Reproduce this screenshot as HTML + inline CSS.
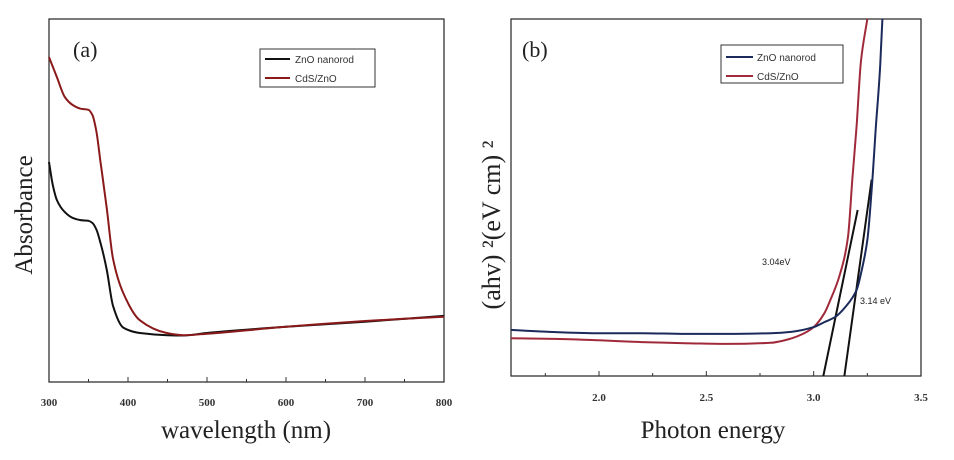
<!DOCTYPE html>
<html><head><meta charset="utf-8"><style>
html,body{margin:0;padding:0;background:#fff;}
svg{display:block;font-family:"Liberation Serif",serif;}
</style></head><body>
<svg id="c" width="954" height="460" viewBox="0 0 954 460">
<rect x="0" y="0" width="954" height="460" fill="#fff"/>
<g id="pa"></g>
<g id="pb"></g>
</svg>
<script>
// Panel (a) data: wavelength (nm) vs absorbance (arb. 0-100)
const aZnoX=[300,305,310,320,330,340,350,355,360,365,373,381,394,415,450,470,500,600,700,800];
const aZnoY=[60.6,54,50.1,46.8,45.2,44.6,44.4,43.8,42,38.5,31,21,15,13.5,12.9,12.8,13.5,15.2,16.6,18.2];
const aCdsX=[300,310,320,330,340,350,355,360,365,373,381,394,415,449,470,500,600,700,800];
const aCdsY=[89.5,84,78.5,76.3,75.3,75.0,73.5,69,61,48,34,24.5,17,13.5,12.9,13.3,15.2,16.8,18];
const aTicks=[300,400,500,600,700,800];
const aTickLabels=["300","400","500","600","700","800"];
// Panel (b) data: photon energy (eV) vs (ahv)^2 (arb. 0-100)
const bZnoX=[1.59,1.8,2.0,2.2,2.4,2.6,2.8,2.9,3.0,3.05,3.1,3.15,3.2,3.225,3.25,3.27,3.29,3.31,3.32];
const bZnoV=[12.9,12.3,12.0,12.0,11.8,11.8,12.0,12.4,13.7,15.1,16.5,19.5,24.1,30,38,52,70,87,100];
const bCdsX=[1.59,1.8,2.0,2.2,2.4,2.6,2.8,2.9,2.95,3.0,3.05,3.08,3.12,3.16,3.18,3.2,3.22,3.25];
const bCdsV=[10.6,10.4,10,9.5,9.2,9.0,9.3,10.6,11.8,13.7,17.6,21.6,28,39,55,70,88,100];
const bTicks=[2.0,2.5,3.0,3.5];
const bTickLabels=["2.0","2.5","3.0","3.5"];
const bFit1=[[3.045,0],[3.205,46.5]];
const bFit2=[[3.143,0],[3.27,55]];

const NS="http://www.w3.org/2000/svg";
function mk(p,t,at){const e=document.createElementNS(NS,t);for(const k in at)e.setAttribute(k,at[k]);p.appendChild(e);return e;}
// monotone cubic (Fritsch-Carlson) path through pixel points sorted by x
function smooth(pts){const n=pts.length,dx=[],m=[],t=[];
 for(let i=0;i<n-1;i++){dx[i]=pts[i+1][0]-pts[i][0];m[i]=(pts[i+1][1]-pts[i][1])/dx[i];}
 t[0]=m[0];t[n-1]=m[n-2];
 for(let i=1;i<n-1;i++){if(m[i-1]*m[i]<=0)t[i]=0;else{const w1=2*dx[i]+dx[i-1],w2=dx[i]+2*dx[i-1];t[i]=(w1+w2)/(w1/m[i-1]+w2/m[i]);}}
 let d="M"+pts[0][0].toFixed(1)+","+pts[0][1].toFixed(1);
 for(let i=0;i<n-1;i++){const h=dx[i]/3;
 d+=" C"+(pts[i][0]+h).toFixed(1)+","+(pts[i][1]+t[i]*h).toFixed(1)+" "+(pts[i+1][0]-h).toFixed(1)+","+(pts[i+1][1]-t[i+1]*h).toFixed(1)+" "+pts[i+1][0].toFixed(1)+","+pts[i+1][1].toFixed(1);}
 return d;}

// ---- Panel a ----
const pa=document.getElementById('pa');
const aL=49,aR=444,aT=19,aB=382;
const ax=v=>aL+(v-300)/500*(aR-aL);
const ay=v=>aB-v/100*(aB-aT);
let e;
e=mk(pa,'rect',{x:aL,y:aT,width:aR-aL,height:aB-aT,fill:'none',stroke:'#333','stroke-width':1.3});

for(let t=300;t<=800;t+=50){e=mk(pa,'line',{x1:ax(t),x2:ax(t),y1:aB,y2:aB-(t%100===0?5:3),stroke:'#333','stroke-width':1});
 }
aTicks.forEach((t,i)=>{e=mk(pa,'text',{x:ax(t),y:406,'text-anchor':'middle','font-size':11,'font-weight':'bold',fill:'#333'});e.textContent=aTickLabels[i];
 });
e=mk(pa,'text',{x:246,y:438,'text-anchor':'middle','font-size':25,fill:'#222'});e.textContent='wavelength (nm)';

e=mk(pa,'text',{x:0,y:0,transform:'translate(32,215) rotate(-90)','text-anchor':'middle','font-size':25,fill:'#222'});e.textContent='Absorbance';

e=mk(pa,'text',{x:73,y:57,'font-size':22,fill:'#222'});e.textContent='(a)';

e=mk(pa,'path',{d:smooth(aZnoX.map((v,i)=>[ax(v),ay(aZnoY[i])])),fill:'none',stroke:'#111','stroke-width':2});

e=mk(pa,'path',{d:smooth(aCdsX.map((v,i)=>[ax(v),ay(aCdsY[i])])),fill:'none',stroke:'#8a1a1a','stroke-width':2});

const lgA=mk(pa,'g',{});
mk(lgA,'rect',{x:260,y:49,width:115,height:38,fill:'#fff',stroke:'#333','stroke-width':1});
mk(lgA,'line',{x1:265,x2:290,y1:59,y2:59,stroke:'#111','stroke-width':2});
e=mk(lgA,'text',{x:295,y:63,'font-size':10,'font-family':'Liberation Sans,sans-serif',fill:'#333'});e.textContent='ZnO nanorod';

mk(lgA,'line',{x1:265,x2:290,y1:78,y2:78,stroke:'#8a1a1a','stroke-width':2});
e=mk(lgA,'text',{x:295,y:82,'font-size':10,'font-family':'Liberation Sans,sans-serif',fill:'#333'});e.textContent='CdS/ZnO';


// ---- Panel b ----
const pb=document.getElementById('pb');
const bL=511,bR=921,bT=19,bB=376;
const bx=v=>599+(v-2.0)/1.5*(bR-599);
const by=v=>bB-v/100*(bB-bT);
const cp=mk(pb,'clipPath',{id:'clipb'});mk(cp,'rect',{x:bL,y:bT,width:bR-bL,height:bB-bT});
e=mk(pb,'rect',{x:bL,y:bT,width:bR-bL,height:bB-bT,fill:'none',stroke:'#333','stroke-width':1.3});

for(let t=1.75;t<=3.5;t+=0.25){e=mk(pb,'line',{x1:bx(t),x2:bx(t),y1:bB,y2:bB-(Math.abs(t*2-Math.round(t*2))<1e-6?5:3),stroke:'#333','stroke-width':1});
 }
bTicks.forEach((t,i)=>{e=mk(pb,'text',{x:bx(t),y:401,'text-anchor':'middle','font-size':11,'font-weight':'bold',fill:'#333'});e.textContent=bTickLabels[i];
 });
e=mk(pb,'text',{x:713,y:438,'text-anchor':'middle','font-size':25,fill:'#222'});e.textContent='Photon energy';

e=mk(pb,'text',{x:0,y:0,transform:'translate(500,225) rotate(-90)','text-anchor':'middle','font-size':26,fill:'#222'});e.textContent='(ahv) \u00b2(eV cm) \u00b2';

e=mk(pb,'text',{x:522,y:57,'font-size':22,fill:'#222'});e.textContent='(b)';

const gb=mk(pb,'g',{'clip-path':'url(#clipb)'});
e=mk(gb,'line',{x1:bx(bFit1[0][0]),y1:by(bFit1[0][1]),x2:bx(bFit1[1][0]),y2:by(bFit1[1][1]),stroke:'#111','stroke-width':2});

e=mk(gb,'line',{x1:bx(bFit2[0][0]),y1:by(bFit2[0][1]),x2:bx(bFit2[1][0]),y2:by(bFit2[1][1]),stroke:'#111','stroke-width':2});

e=mk(gb,'path',{d:smooth(bCdsX.map((v,i)=>[bx(v),by(bCdsV[i])])),fill:'none',stroke:'#a02a3a','stroke-width':2});

e=mk(gb,'path',{d:smooth(bZnoX.map((v,i)=>[bx(v),by(bZnoV[i])])),fill:'none',stroke:'#1a2a5a','stroke-width':2});

e=mk(pb,'text',{x:762,y:265,'font-size':9,'font-family':'Liberation Sans,sans-serif',fill:'#222'});e.textContent='3.04eV';

e=mk(pb,'text',{x:860,y:304,'font-size':9,'font-family':'Liberation Sans,sans-serif',fill:'#222'});e.textContent='3.14 eV';

const lgB=mk(pb,'g',{});
mk(lgB,'rect',{x:721,y:45,width:122,height:38,fill:'#fff',stroke:'#333','stroke-width':1});
mk(lgB,'line',{x1:726,x2:753,y1:57,y2:57,stroke:'#1a2a5a','stroke-width':2});
e=mk(lgB,'text',{x:757,y:61,'font-size':10,'font-family':'Liberation Sans,sans-serif',fill:'#333'});e.textContent='ZnO nanorod';

mk(lgB,'line',{x1:726,x2:753,y1:76,y2:76,stroke:'#a02a3a','stroke-width':2});
e=mk(lgB,'text',{x:757,y:80,'font-size':10,'font-family':'Liberation Sans,sans-serif',fill:'#333'});e.textContent='CdS/ZnO';

</script>
</body></html>
